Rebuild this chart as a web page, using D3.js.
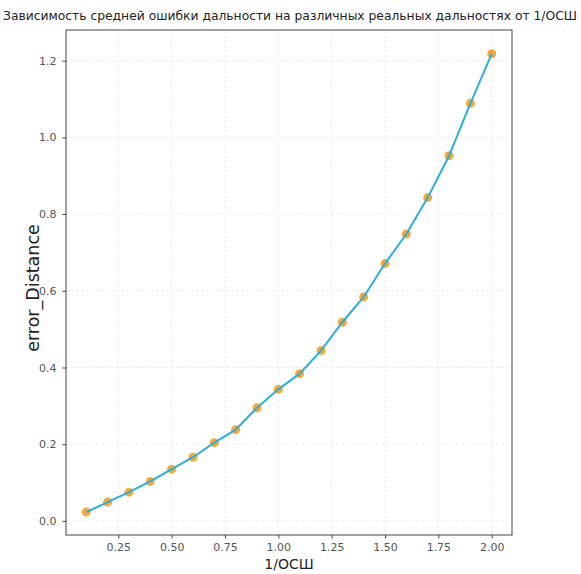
<!DOCTYPE html>
<html>
<head>
<meta charset="utf-8">
<script src="https://cdn.jsdelivr.net/npm/d3@7"></script>
<style>
  html, body { margin: 0; padding: 0; background: #fff; }
  svg { display: block; font-family: "DejaVu Sans", sans-serif; }
</style>
</head>
<body>
<svg id="chart" width="581" height="574"></svg>
<script>
// 1/SNR values and the mean range error measured at each
const invSnr = [0.1, 0.2, 0.3, 0.4, 0.5, 0.6, 0.7, 0.8, 0.9, 1.0,
                1.1, 1.2, 1.3, 1.4, 1.5, 1.6, 1.7, 1.8, 1.9, 2.0];
const errorDistance = [0.023, 0.049, 0.075, 0.103, 0.135, 0.166, 0.204, 0.238, 0.295, 0.343,
                       0.384, 0.444, 0.518, 0.584, 0.671, 0.748, 0.843, 0.952, 1.089, 1.218];
const xTicks = [0.25, 0.50, 0.75, 1.00, 1.25, 1.50, 1.75, 2.00];
const yTicks = [0.0, 0.2, 0.4, 0.6, 0.8, 1.0, 1.2];

const titleText = "Зависимость средней ошибки дальности на различных реальных дальностях от 1/ОСШ";
const xLabel = "1/ОСШ";
const yLabel = "error_Distance";

const svg = d3.select("#chart");
const plot = { left: 66, right: 512, top: 30, bottom: 535 };

// axis limits padded 5% around the data, as in matplotlib's default margins
const xPad = (d3.max(invSnr) - d3.min(invSnr)) * 0.05;
const yPad = (d3.max(errorDistance) - d3.min(errorDistance)) * 0.05;
const x = d3.scaleLinear()
  .domain([d3.min(invSnr) - xPad, d3.max(invSnr) + xPad])
  .range([plot.left, plot.right]);
const y = d3.scaleLinear()
  .domain([d3.min(errorDistance) - yPad, 1.28])
  .range([plot.bottom, plot.top]);

// grid
const grid = svg.append("g").attr("stroke", "#ececec").attr("stroke-width", 1)
  .attr("stroke-dasharray", "3,2");
grid.selectAll("line.gx").data(xTicks).join("line")
  .attr("x1", d => x(d)).attr("x2", d => x(d))
  .attr("y1", plot.top).attr("y2", plot.bottom);
grid.selectAll("line.gy").data(yTicks).join("line")
  .attr("x1", plot.left).attr("x2", plot.right)
  .attr("y1", d => y(d)).attr("y2", d => y(d));

// axes
const xAxis = svg.append("g").attr("transform", `translate(0,${plot.bottom})`)
  .call(d3.axisBottom(x).tickValues(xTicks).tickFormat(d3.format(".2f")).tickSizeOuter(0).tickSize(3.5).tickPadding(5));
const yAxis = svg.append("g").attr("transform", `translate(${plot.left},0)`)
  .call(d3.axisLeft(y).tickValues(yTicks).tickFormat(d3.format(".1f")).tickSizeOuter(0).tickSize(3.5).tickPadding(6));
[xAxis, yAxis].forEach(a => {
  a.select(".domain").remove();
  a.selectAll(".tick line").attr("stroke", "#444");
  a.selectAll(".tick text").attr("fill", "#555").style("font-size", "11px")
    .style("font-family", "'DejaVu Sans', sans-serif");
});

// frame
svg.append("rect")
  .attr("x", plot.left).attr("y", plot.top)
  .attr("width", plot.right - plot.left).attr("height", plot.bottom - plot.top)
  .attr("fill", "none").attr("stroke", "#444").attr("stroke-width", 1);

// markers
svg.append("g").selectAll("circle").data(invSnr).join("circle")
  .attr("cx", d => x(d))
  .attr("cy", (d, i) => y(errorDistance[i]))
  .attr("r", 4.5)
  .attr("fill", "#f4a93a");

// line
const line = d3.line().x(d => x(d[0])).y(d => y(d[1]));
svg.append("path")
  .datum(invSnr.map((d, i) => [d, errorDistance[i]]))
  .attr("d", line)
  .attr("fill", "none")
  .attr("stroke", "#2aaee0")
  .attr("stroke-width", 2);

// labels
const title = svg.append("text")
  .attr("x", 290).attr("y", 20)
  .attr("text-anchor", "middle").attr("fill", "#222")
  .style("font-size", "12.4px")
  .text(titleText);
// keep the title inside the window
const tw = title.node().getComputedTextLength();
if (tw > 574) title.style("font-size", (12.4 * 574 / tw) + "px");

svg.append("text")
  .attr("x", (plot.left + plot.right) / 2).attr("y", 569)
  .attr("text-anchor", "middle").attr("fill", "#222")
  .style("font-size", "14px")
  .text(xLabel);

svg.append("text")
  .attr("transform", `translate(39,288) rotate(-90)`)
  .attr("text-anchor", "middle").attr("fill", "#222")
  .style("font-size", "17.5px")
  .text(yLabel);
</script>
</body>
</html>
